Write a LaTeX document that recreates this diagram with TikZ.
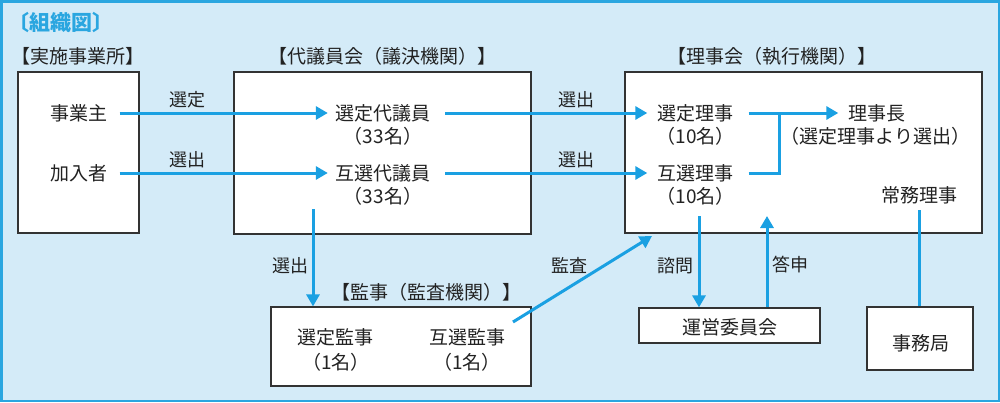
\documentclass[tikz,border=0pt]{standalone}
\usepackage{fontspec}
\setmainfont{Noto Sans CJK JP}
\usetikzlibrary{arrows.meta,calc}
\definecolor{bgblue}{HTML}{D4EBF8}
\definecolor{frameblue}{HTML}{2AA6E0}
\definecolor{arrblue}{HTML}{1AA0E2}
\definecolor{txt}{HTML}{222222}
\definecolor{boxline}{HTML}{333333}
\tikzset{
  box/.style={draw=boxline, line width=1.2pt, fill=white, inner sep=0pt},
  lbl/.style={text=txt, font=\fontsize{19}{22}\selectfont, inner sep=0pt, text height=14pt, text depth=0pt},
  alb/.style={text=txt, font=\fontsize{18}{21}\selectfont, inner sep=0pt, text height=13pt, text depth=0pt},
  hdr/.style={text=txt, font=\fontsize{19}{22}\selectfont, inner sep=0pt, text height=14pt, text depth=0pt},
  conn/.style={draw=arrblue, line width=3pt, -{Triangle[length=12pt,width=13pt]}},
  plain/.style={draw=arrblue, line width=3pt},
}
\begin{document}
\begin{tikzpicture}[x=1pt,y=-1pt]
\useasboundingbox (0,0) rectangle (1000,402);
\fill[bgblue] (0,0) rectangle (1000,402);
\draw[frameblue, line width=2.5pt] (1.25,1.25) rectangle (998.75,400.75);

% title and headers
\node[text=frameblue, font=\fontsize{21}{24}\bfseries\selectfont, inner sep=0pt] (title) at (61,23) {〔組織図〕};
\node[hdr] (h1) at (78,56) {【実施事業所】};
\node[hdr] (h2) at (382,56) {【代議員会（議決機関）】};
\node[hdr] (h3) at (772,56) {【理事会（執行機関）】};
\node[hdr] (h4) at (426,292) {【監事（監査機関）】};

% boxes
\node[box, minimum width=121pt, minimum height=161pt] (b1) at (78.5,152.5) {};
\node[box, minimum width=297pt, minimum height=162pt] (b2) at (382.5,153) {};
\node[box, minimum width=357pt, minimum height=161pt] (b3) at (803.5,152.5) {};
\node[box, minimum width=260pt, minimum height=79pt] (b4) at (401,346.5) {};
\node[box, minimum width=181pt, minimum height=35pt] (b5) at (729.5,325.5) {};
\node[box, minimum width=106pt, minimum height=63pt] (b6) at (920,338.5) {};

% texts in boxes
\node[lbl] (jn) at (79,113) {事業主};
\node[lbl] (kn) at (79,173) {加入者};
\node[lbl] (sd) at (383,113) {選定代議員};
\node[lbl] (sdn) at (383,136) {（33名）};
\node[lbl] (gd) at (383,173) {互選代議員};
\node[lbl] (gdn) at (383,196) {（33名）};
\node[lbl] (sr) at (695.5,113) {選定理事};
\node[lbl] (srn) at (695.5,136) {（10名）};
\node[lbl] (gr) at (695.5,173) {互選理事};
\node[lbl] (grn) at (695.5,196) {（10名）};
\node[lbl] (rc) at (877,113) {理事長};
\node[lbl] (rcn) at (875.5,136) {（選定理事より選出）};
\node[lbl] (jm) at (919.5,195) {常務理事};
\node[lbl] (k1) at (335.5,337) {選定監事};
\node[lbl] (k1n) at (336,362) {（1名）};
\node[lbl] (k2) at (467,337) {互選監事};
\node[lbl] (k2n) at (467,362) {（1名）};
\node[lbl] (un) at (730,327) {運営委員会};
\node[lbl] (jk) at (920.5,343) {事務局};

% arrow labels
\node[alb] (l1) at (187,100) {選定};
\node[alb] (l2) at (187,160) {選出};
\node[alb] (l3) at (576,100) {選出};
\node[alb] (l4) at (576,160) {選出};
\node[alb] (l5) at (290,266) {選出};
\node[alb] (l6) at (569.5,266) {監査};
\node[alb] (l7) at (675,266) {諮問};
\node[alb] (l8) at (790,265) {答申};

% helper coordinates
\coordinate (jc) at (779,113);
\coordinate (c1) at (313,209);
\coordinate (c2) at (699,216);
\coordinate (c3) at (767,216);
\coordinate (c4) at (919,210);
\coordinate (a1) at (513,322);
\coordinate (a2) at (652,236);

% connectors
\draw[conn, shorten <=12pt, shorten >=7.5pt] (jn.east) -- (sd.west);
\draw[conn, shorten <=12pt, shorten >=7.5pt] (kn.east) -- (gd.west);
\draw[conn, shorten <=14.5pt, shorten >=10pt] (sd.east) -- (sr.west);
\draw[conn, shorten <=14.5pt, shorten >=10pt] (gd.east) -- (gr.west);
\draw[conn, shorten <=15pt, shorten >=10pt] (sr.east) -- (rc.west);
\draw[plain, shorten <=15pt] (gr.east) -| (jc);
\draw[conn] (c1) -- (c1 |- b4.north);
\draw[conn] (a1) -- (a2);
\draw[conn] (c2) -- (c2 |- b5.north);
\draw[conn] (c3 |- b5.north) -- (c3);
\draw[plain] (c4) -- (c4 |- b6.north);
\end{tikzpicture}
\end{document}
